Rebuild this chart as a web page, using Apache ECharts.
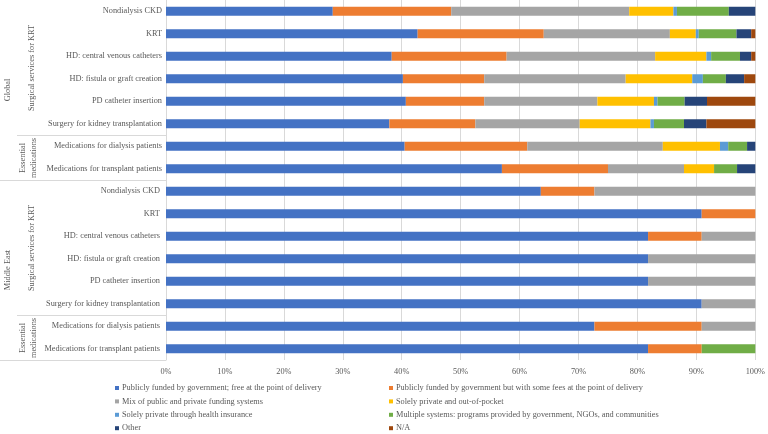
<!DOCTYPE html>
<html>
<head>
<meta charset="utf-8">
<script src="https://cdn.jsdelivr.net/npm/echarts@6/dist/echarts.min.js"></script>
<style>
html,body{margin:0;padding:0;background:#fff;}
#chart{width:768px;height:434px;}
</style>
</head>
<body>
<div id="chart"></div>
<script>
// categories, top to bottom
var categories = [
	'Nondialysis CKD','KRT','HD: central venous catheters','HD: fistula or graft creation',
	'PD catheter insertion','Surgery for kidney transplantation',
	'Medications for dialysis patients','Medications for transplant patients',
	'Nondialysis CKD ','KRT ','HD: central venous catheters ','HD: fistula or graft creation ',
	'PD catheter insertion ','Surgery for kidney transplantation ',
	'Medications for dialysis patients ','Medications for transplant patients '
];

var seriesNames = [
	'Publicly funded by government; free at the point of delivery',
	'Publicly funded by government but with some fees at the point of delivery',
	'Mix of public and private funding systems',
	'Solely private and out-of-pocket',
	'Solely private through health insurance',
	'Multiple systems: programs provided by government, NGOs, and communities',
	'Other',
	'N/A'
];

// percent of countries, per category (Global rows then Middle East rows)
var freePublic   = [28.3,42.7,38.3,40.2,40.7,37.9,40.5,57.0, 63.6,90.9,81.8,81.8,81.8,90.9,72.7,81.8];
var feesPublic   = [20.1,21.4,19.5,13.8,13.3,14.6,20.8,18.0,  9.1, 9.1, 9.1, 0,   0,   0,  18.2, 9.1];
var mixed        = [30.2,21.4,25.2,24.0,19.2,17.7,23.0,12.9, 27.3, 0,   9.1,18.2,18.2, 9.1, 9.1, 0];
var outOfPocket  = [ 7.5, 4.4, 8.7,11.3, 9.6,12.0, 9.7, 5.1,  0,   0,   0,   0,   0,   0,   0,   0];
var insurance    = [ 0.6, 0.5, 0.8, 1.8, 0.6, 0.6, 1.4, 0,    0,   0,   0,   0,   0,   0,   0,   0];
var multiple     = [ 8.8, 6.4, 4.9, 3.9, 4.6, 5.1, 3.2, 3.9,  0,   0,   0,   0,   0,   0,   0,   9.1];
var other        = [ 4.5, 2.5, 1.9, 3.1, 3.8, 3.8, 1.4, 3.1,  0,   0,   0,   0,   0,   0,   0,   0];
var notAvailable = [ 0,   0.7, 0.7, 1.9, 8.2, 8.3, 0,   0,    0,   0,   0,   0,   0,   0,   0,   0];

var xTicks = ['0%','10%','20%','30%','40%','50%','60%','70%','80%','90%','100%'];

var COLORS = ['#4472C4','#ED7D31','#A5A5A5','#FFC000','#5B9BD5','#70AD47','#264478','#9E480E'];
var TEXT = '#595959';
var FONT = '"Liberation Serif", "Times New Roman", serif';
var FS = 8.3;

var seriesData = [freePublic,feesPublic,mixed,outOfPocket,insurance,multiple,other,notAvailable];

var series = seriesData.map(function(d,i){
	return {
		name: seriesNames[i],
		type: 'bar',
		stack: 'total',
		barWidth: 9,
		itemStyle: {color: COLORS[i]},
		emphasis: {disabled: true},
		data: d
	};
});

// one small legend per entry: two columns, four rows
var legends = seriesNames.map(function(name,i){
	return {
		left: (i % 2 === 0) ? 115 : 389,
		top: 384 + Math.floor(i/2)*13.4,
		itemWidth: 4, itemHeight: 4, icon: 'rect',
		padding: 0,
		textStyle: {color: TEXT, fontFamily: FONT, fontSize: FS, padding: [0,0,0,-2]},
		data: [name]
	};
});

function groupText(x,y,text){
	return {
		type: 'text',
		x: x, y: y,
		rotation: Math.PI/2,
		style: {
			text: text,
			fill: TEXT,
			font: FS + 'px ' + FONT,
			textAlign: 'center',
			textVerticalAlign: 'middle',
			lineHeight: 11
		}
	};
}

function sepLine(x1,y,x2){
	return {
		type: 'line',
		shape: {x1:x1, y1:y, x2:x2, y2:y},
		style: {stroke:'#D9D9D9', lineWidth:1}
	};
}

var chart = echarts.init(document.getElementById('chart'));
chart.setOption({
	animation: false,
	textStyle: {fontFamily: FONT},
	grid: {left: 166, right: 10, top: 0, bottom: 74, containLabel: false},
	xAxis: {
		type: 'value',
		min: 0, max: 100, interval: 10,
		axisLine: {show: false},
		axisTick: {show: false},
		splitLine: {lineStyle: {color: '#D9D9D9'}},
		axisLabel: {
			color: TEXT, fontSize: FS, fontFamily: FONT, margin: 8,
			formatter: function(v){ return xTicks[Math.round(v/10)]; }
		}
	},
	yAxis: {
		type: 'category',
		inverse: true,
		data: categories,
		axisLine: {show: true, lineStyle: {color: '#D9D9D9'}},
		axisTick: {show: false},
		axisLabel: {color: TEXT, fontSize: FS, fontFamily: FONT, margin: 4}
	},
	legend: legends,
	graphic: [
		groupText(8, 90, 'Global'),
		groupText(32, 68, 'Surgical services for KRT'),
		groupText(28, 158, 'Essential\nmedications'),
		groupText(8, 270, 'Middle East'),
		groupText(32, 248, 'Surgical services for KRT'),
		groupText(28, 338, 'Essential\nmedications'),
		sepLine(17, 135.5, 166),
		sepLine(0, 180.5, 166),
		sepLine(17, 315.5, 166),
		sepLine(0, 360.5, 166)
	],
	series: series
});
</script>
</body>
</html>
